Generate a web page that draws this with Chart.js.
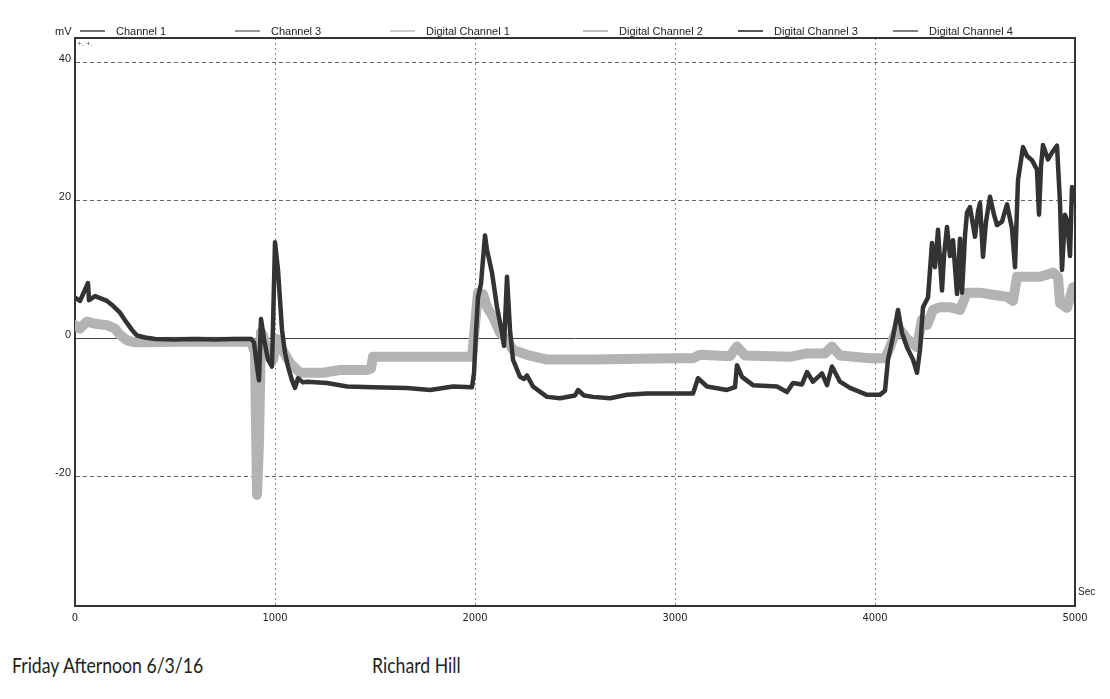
<!DOCTYPE html>
<html><head><meta charset="utf-8">
<script src="https://cdn.jsdelivr.net/npm/chart.js@4.4.1/dist/chart.umd.min.js"></script>
<style>
html,body{margin:0;padding:0;background:#fff;}
#wrap{position:relative;width:1110px;height:699px;background:#fff;}
#c{position:absolute;left:0;top:0;}
.cap{position:absolute;top:652px;font-family:Lato,'Open Sans',sans-serif;font-size:21px;color:#222;white-space:nowrap;transform:scaleX(0.84);transform-origin:0 50%;}
</style></head><body>
<div id="wrap"><canvas id="c" width="1110" height="640"></canvas>
<div class="cap" style="left:12px">Friday Afternoon 6/3/16</div>
<div class="cap" style="left:372px">Richard Hill</div></div>
<script>
// ---- data ----
const channelNames = ['Channel 1','Channel 3','Digital Channel 1','Digital Channel 2','Digital Channel 3','Digital Channel 4'];
const xTickValues = [0,1000,2000,3000,4000,5000];
const yTickValues = [-20,0,20,40];

// dark trace (seconds, mV)
const ch1Times = [0,25,65,70,100,135,160,190,225,255,285,310,350,400,500,600,700,800,880,
 895,910,920,930,945,965,985,1000,1015,1035,1050,1065,1085,1100,1115,1140,1160,1260,1360,1490,1660,1775,1890,1985,
 1995,2005,2015,2030,2050,2060,2085,2110,2135,2145,2160,2175,2190,2225,2245,2260,2290,2360,2425,2500,2515,2545,2590,2675,2760,2860,2990,
 3090,3115,3160,3260,3300,3310,3335,3390,3510,3560,3590,3635,3660,3690,3735,3760,3785,3825,3875,3960,4025,4050,
 4065,4090,4115,4135,4160,4190,4210,4225,4240,4265,4285,4300,4315,4335,4345,4360,4375,4390,4410,4425,4435,4450,4460,4475,
 4500,4515,4525,4540,4555,4575,4595,4610,4635,4660,4685,4700,4715,4740,4760,4785,4810,4820,4830,4840,4865,4885,4910,4925,4935,4950,4960,4975,4985,4995];
const ch1Values = [6.0,5.5,8.1,5.6,6.2,5.8,5.5,4.8,3.8,2.5,1.3,0.5,0.2,0.0,-0.1,0.0,-0.1,0.0,0.0,
 -0.5,-4.0,-6.0,2.9,0.0,-3.0,-4.0,14.0,10.0,1.3,-2.0,-4.0,-6.0,-7.1,-5.7,-6.3,-6.2,-6.4,-6.9,-7.0,-7.1,-7.4,-6.9,-7.0,
 -5.0,1.0,6.0,8.0,15.0,12.9,9.6,4.6,0.9,-1.0,9.0,1.3,-3.0,-5.5,-5.8,-5.3,-6.9,-8.4,-8.6,-8.2,-7.4,-8.2,-8.4,-8.6,-8.1,-7.9,-7.9,
 -7.9,-5.7,-6.9,-7.4,-7.0,-3.8,-5.5,-6.7,-6.9,-7.7,-6.4,-6.6,-4.8,-6.2,-5.0,-6.7,-4.0,-6.2,-7.1,-8.1,-8.1,-7.5,
 -3.0,0.3,4.2,0.9,-1.2,-3.0,-4.9,-1.6,4.6,6.0,13.9,10.4,15.8,7.0,12.0,16.2,12.0,14.3,6.5,14.5,6.7,15.0,18.3,19.1,
 14.8,18.5,19.7,11.9,17.0,20.6,18.0,16.5,17.0,19.5,16.0,10.4,23.0,27.8,26.5,25.9,24.5,18.0,25.0,28.1,26.0,27.0,28.0,19.7,10.0,18.0,17.2,12.0,22.0,20.0];

// light grey trace (seconds, mV)
const ch3Times = [0,25,60,100,160,200,225,260,300,350,500,700,880,
 900,910,920,930,940,960,990,1010,1035,1075,1125,1240,1325,1460,1480,1490,1985,
 2000,2015,2040,2060,2090,2125,2160,2190,2260,2360,2590,2990,
 3090,3125,3275,3310,3350,3575,3660,3750,3785,3825,3975,4050,
 4075,4090,4115,4160,4210,4235,4260,4290,4325,4375,4425,4460,4525,4590,4660,4690,4710,4760,4825,4890,4915,4925,4960,4990];
const ch3Values = [2.0,1.5,2.5,2.2,2.0,1.5,0.6,-0.2,-0.5,-0.5,-0.4,-0.4,-0.4,
 -2.0,-22.6,-15.0,1.0,0.5,-1.6,-3.0,0.0,-1.5,-3.5,-4.9,-4.9,-4.5,-4.5,-4.3,-2.6,-2.6,
 2.0,6.7,6.5,4.6,3.2,0.9,-0.1,-1.6,-2.3,-3.0,-3.0,-2.8,
 -2.8,-2.3,-2.5,-1.1,-2.4,-2.6,-2.1,-2.1,-1.1,-2.4,-2.8,-2.8,
 -1.2,0.0,1.7,0.0,-1.2,2.8,2.0,4.2,4.6,4.6,4.2,6.7,6.7,6.4,6.1,5.5,9.0,9.0,9.0,9.6,9.0,5.2,4.5,7.5];

const legendColors = ['#444','#777','#bbb','#aaa','#222','#555'];
const legendSlots = [80,235,390,583,738,893];

function pts(t,v){ return t.map((x,i)=>({x:x,y:v[i]})); }

const overlay = {
  id:'overlay',
  afterDraw(chart){
    const {ctx, chartArea:a} = chart;
    ctx.save();
    ctx.strokeStyle='#333'; ctx.lineWidth=2;
    ctx.beginPath(); ctx.moveTo(a.left,a.top); ctx.lineTo(a.right,a.top); ctx.lineTo(a.right,a.bottom); ctx.stroke();
    ctx.font='11px "Liberation Sans", Arial, sans-serif';
    ctx.fillStyle='#222'; ctx.textBaseline='middle'; ctx.textAlign='left';
    ctx.fillText('mV', 55, 32);
    chart.data.datasets.forEach((ds,i)=>{
      const x = legendSlots[i];
      ctx.strokeStyle = legendColors[i]; ctx.lineWidth = 1.5;
      ctx.beginPath(); ctx.moveTo(x,31); ctx.lineTo(x+25,31); ctx.stroke();
      ctx.fillStyle='#222';
      ctx.fillText(ds.label, x+36, 32);
    });
    ctx.font='10px "Liberation Sans", Arial, sans-serif';
    ctx.fillText('Sec', 1078, 592);
    ctx.font='8px "Liberation Sans", Arial, sans-serif'; ctx.fillStyle='#555';
    ctx.fillText('+. +.', 77, 44);
    ctx.restore();
  }
};

const datasets = channelNames.map((name,i)=>({label:name, data:[], borderColor:legendColors[i], pointRadius:0, borderWidth:1, order:5+i}));
datasets[0].data = pts(ch1Times, ch1Values);
datasets[0].borderColor = '#333'; datasets[0].borderWidth = 4.5; datasets[0].order = 0;
datasets[1].data = pts(ch3Times, ch3Values);
datasets[1].borderColor = '#b3b3b3'; datasets[1].borderWidth = 10; datasets[1].order = 1;

new Chart(document.getElementById('c'), {
  type:'line',
  data:{datasets:datasets},
  options:{
    responsive:false, animation:false, devicePixelRatio:1,
    layout:{padding:{left:0,right:35,top:38,bottom:0}},
    elements:{line:{tension:0, borderJoinStyle:'round', borderCapStyle:'round'}},
    plugins:{legend:{display:false}, tooltip:{enabled:false}},
    scales:{
      x:{type:'linear', min:0, max:5000,
        afterBuildTicks:s=>{ s.ticks = xTickValues.map(v=>({value:v})); },
        afterFit:s=>{ s.height = 34; },
        grid:{drawTicks:false, color:c=> (c.tick && (c.tick.value===0||c.tick.value===5000)) ? 'rgba(0,0,0,0)' : '#888', lineWidth:1},
        border:{display:true, color:'#333', width:2, dash:[2,3]},
        ticks:{padding:6, maxRotation:0, color:'#222', callback:v=>String(v),
          font:{family:'"Liberation Sans Narrow","DejaVu Sans Condensed",sans-serif', size:11}}
      },
      y:{type:'linear', min:-38.7, max:43.6,
        afterBuildTicks:s=>{ s.ticks = yTickValues.map(v=>({value:v})); },
        afterFit:s=>{ s.width = 75; },
        grid:{drawTicks:false, color:c=> (c.tick && c.tick.value===0) ? '#444' : '#666', lineWidth:1},
        border:{display:true, color:'#333', width:2, dash:c=> (c.tick && c.tick.value===0) ? [] : [4,3]},
        ticks:{padding:4, labelOffset:-4, color:'#222', callback:v=>String(v),
          font:{family:'"Liberation Sans", Arial, sans-serif', size:11}}
      }
    }
  },
  plugins:[overlay]
});
</script>
</body></html>
